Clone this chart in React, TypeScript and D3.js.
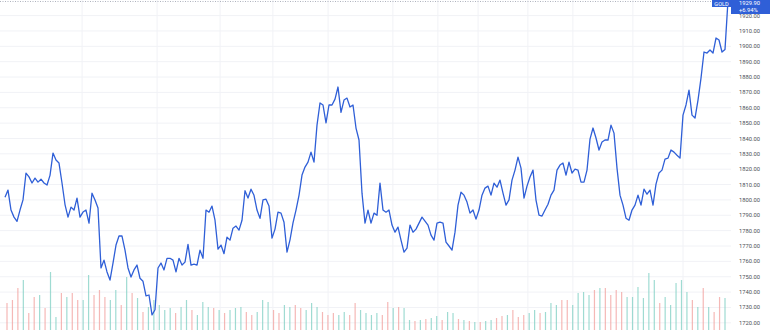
import React from "react";
import * as d3 from "d3";

const symbol = "GOLD";
const lastPriceLabel = "1929.90";
const changeLabel = "+6.94%";
const lastPrice = 1929.9;

const prices = [
  1801.8, 1806.4, 1793.4, 1788.8, 1786, 1793.4, 1800, 1817.5, 1815, 1811,
  1814.2, 1811.6, 1813.5, 1811, 1809.7, 1816, 1830.5, 1826, 1824, 1811,
  1797, 1788.8, 1795.3, 1793.4, 1801.2, 1788.8, 1792.1, 1793.4, 1784.9, 1804.4,
  1800, 1794.7, 1755.7, 1760.8, 1753.1, 1747.8, 1758.9, 1770.6, 1776.5, 1776.5,
  1767.3, 1755.7, 1749.8, 1754.4, 1757.6, 1749, 1747, 1737.5, 1738.1, 1725.1,
  1728.5, 1755.7, 1758.9, 1754.4, 1762, 1762, 1760.8, 1753.1, 1762, 1757.6,
  1759.5, 1771, 1757.6, 1758.2, 1757.6, 1767.3, 1762, 1793.4, 1792, 1796,
  1786.8, 1768, 1770.6, 1765, 1775.8, 1773.8, 1781.6, 1783, 1780.3, 1786.8,
  1806, 1801.2, 1807, 1803, 1793.4, 1788, 1800, 1800.5, 1796, 1775.1,
  1781, 1792.1, 1791.4, 1785.5, 1766, 1774, 1785, 1793.4, 1803, 1816.2,
  1821.4, 1824.6, 1831.1, 1824.6, 1848.7, 1863.1, 1861.8, 1850.1, 1861.8, 1861.8,
  1865.6, 1873.5, 1857, 1865, 1866.3, 1860.5, 1861.8, 1846.8, 1839, 1804.4,
  1784.9, 1793.4, 1784.9, 1791.4, 1790, 1810.9, 1793.4, 1792, 1793.4, 1783.6,
  1779, 1782.3, 1773.8, 1766, 1768.6, 1783.6, 1779, 1781, 1784.9, 1788.8,
  1786.2, 1783.6, 1777.1, 1773.8, 1784.9, 1785.5, 1784.9, 1772.5, 1770, 1767.3,
  1779, 1796.6, 1805, 1803.1, 1798.6, 1791.4, 1793.4, 1787.5, 1793.4, 1803.1,
  1807.7, 1809, 1803.1, 1810.9, 1808.3, 1812.9, 1804.4, 1796.6, 1800, 1812.9,
  1819.4, 1827.9, 1820.7, 1801.2, 1809, 1814.9, 1819.4, 1799.9, 1790.1, 1789.5,
  1793.4, 1797.2, 1803.1, 1806.4, 1819.4, 1822.7, 1824, 1816.2, 1824.6, 1817.5,
  1820, 1819.4, 1811.6, 1811.6, 1819.4, 1839.6, 1846.8, 1840.3, 1832.5, 1837.7,
  1839, 1839, 1848.7, 1843.5, 1820.7, 1803.1, 1796.6, 1788.1, 1786.8, 1793.4,
  1796.6, 1803.1, 1796.6, 1807, 1803.7, 1806.4, 1796.6, 1810.3, 1817.5, 1819.4,
  1826.6, 1827.2, 1832.5, 1831.1, 1829.1, 1827.2, 1855.2, 1861.8, 1871.5, 1855.2,
  1853.3, 1865, 1879.3, 1896.3, 1895.6, 1897.6, 1895.6, 1905.4, 1904.1, 1896.3,
  1898, 1929.9,
];

const volumes = [
  27, 30, 42, 50, 17, 33, 35, 22, 58, 13,
  37, 33, 37, 30, 30, 55, 35, 40, 33, 30,
  40, 25, 53, 37, 32, 18, 23, 30, 25, 20,
  22, 17, 23, 30, 20, 15, 28, 23, 22, 20,
  17, 20, 22, 23, 18, 15, 18, 30, 28, 20,
  17, 25, 23, 25, 22, 20, 27, 23, 18, 15,
  17, 15, 18, 15, 27, 20, 17, 15, 17, 15,
  28, 22, 23, 22, 10, 9, 10, 11, 12, 14,
  10, 18, 17, 11, 10, 9, 8, 8, 9, 10,
  12, 14, 15, 20, 13, 15, 17, 20, 17, 18,
  27, 25, 30, 30, 25, 37, 38, 35, 40, 42,
  42, 35, 40, 38, 33, 33, 43, 32, 57, 50,
  27, 33, 25, 47, 50, 38, 30, 23, 42, 23,
  18, 33, 32,
];

const volumeSide = [
  "d", "d", "d", "u", "d", "d", "u", "d", "u", "u",
  "d", "u", "d", "d", "u", "u", "d", "d", "d", "u",
  "u", "d", "u", "d", "u", "d", "u", "u", "u", "u",
  "u", "d", "u", "u", "d", "u", "u", "u", "d", "u",
  "d", "u", "u", "u", "d", "d", "u", "u", "u", "d",
  "d", "u", "u", "d", "d", "u", "u", "u", "d", "d",
  "d", "u", "u", "d", "d", "u", "u", "u", "u", "d",
  "d", "u", "d", "u", "u", "d", "u", "d", "u", "u",
  "d", "u", "u", "d", "u", "d", "u", "d", "u", "u",
  "d", "d", "u", "d", "d", "d", "u", "u", "d", "u",
  "u", "u", "d", "d", "u", "u", "u", "u", "d", "u",
  "d", "d", "d", "d", "u", "u", "u", "u", "u", "u",
  "d", "u", "u", "u", "u", "u", "d", "u", "d", "u",
  "d", "d", "u",
];

const priceTicks = [
  1720, 1730, 1740, 1750, 1760, 1770, 1780, 1790, 1800, 1810, 1820,
  1830, 1840, 1850, 1860, 1870, 1880, 1890, 1900, 1910, 1920,
];

// time-axis grid positions, as indices into the price series
const timeGridIdx = [25.7, 50.7, 71.7, 89.3, 107.7, 129.3, 144.3, 157.7, 174.3, 189.3, 209.3, 226];

const W = 770;
const H = 330;

export default function App() {
  const x = d3.scaleLinear().domain([0, prices.length - 1]).range([5, 728]);
  const y = d3.scaleLinear().domain([1720, 1920]).range([322.8, 15.6]);
  const xv = d3.scaleLinear().domain([0, volumes.length - 1]).range([7, 725]);
  const yv = d3.scaleLinear().domain([0, 60]).range([330, 270]);

  const line = d3
    .line<number>()
    .x((_, i) => x(i))
    .y((d) => y(d))
    .curve(d3.curveLinear);

  const plotRight = 731;
  const font = "Roboto, 'Liberation Sans', Arial, sans-serif";

  return (
    <div style={{ position: "fixed", left: 0, top: 0 }}>
      <svg width={W} height={H} style={{ display: "block", background: "#ffffff" }}>
        {/* horizontal grid */}
        {priceTicks.map((t) => (
          <line
            key={"h" + t}
            x1={0}
            x2={plotRight}
            y1={y(t)}
            y2={y(t)}
            stroke="#f1f2f6"
            strokeWidth={1}
          />
        ))}
        {/* vertical grid */}
        {timeGridIdx.map((t, i) => (
          <line
            key={"v" + i}
            x1={x(t)}
            x2={x(t)}
            y1={0}
            y2={H}
            stroke="#f1f2f6"
            strokeWidth={1}
          />
        ))}
        {/* volume */}
        <g>
          {volumes.map((v, i) => (
            <rect
              key={"vol" + i}
              x={xv(i) - 0.6}
              y={yv(v)}
              width={1.2}
              height={yv(0) - yv(v)}
              fill={volumeSide[i] === "u" ? "#7fcfc3" : "#f2a09d"}
              opacity={0.75}
            />
          ))}
        </g>
        {/* last price dotted line */}
        <line
          x1={0}
          x2={plotRight}
          y1={Math.max(y(lastPrice), 0.5) + 1}
          y2={Math.max(y(lastPrice), 0.5) + 1}
          stroke="#9aa0ad"
          strokeWidth={0.8}
          strokeDasharray="1 1.5"
        />
        {/* price line */}
        <path
          d={line(prices) || ""}
          fill="none"
          stroke="#2f5fd7"
          strokeWidth={1.3}
          strokeLinejoin="round"
        />
        {/* axis labels */}
        {priceTicks.map((t) => (
          <text
            key={"t" + t}
            x={739}
            y={y(t)}
            dy="0.35em"
            fontSize={5.8}
            fontFamily={font}
            fill="#4c4f57"
          >
            {t.toFixed(2)}
          </text>
        ))}
        {/* symbol label */}
        <rect x={712} y={0} width={19} height={7} fill="#2f5fd7" />
        <text x={721.5} y={3.6} dy="0.35em" textAnchor="middle" fontSize={5.6} fontFamily={font} fill="#ffffff">
          {symbol}
        </text>
        {/* price label */}
        <rect x={731} y={0} width={39} height={14} fill="#2f5fd7" />
        <text x={739} y={3.3} dy="0.35em" fontSize={5.8} fontFamily={font} fill="#ffffff">
          {lastPriceLabel}
        </text>
        <text x={739} y={10.3} dy="0.35em" fontSize={5.8} fontFamily={font} fill="#ffffff">
          {changeLabel}
        </text>
      </svg>
    </div>
  );
}
